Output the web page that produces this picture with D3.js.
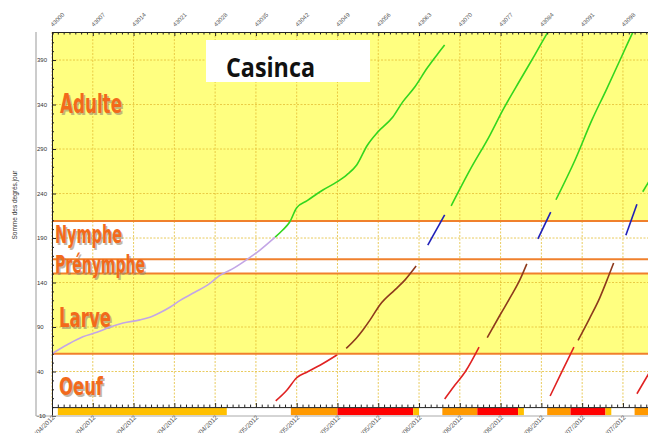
<!DOCTYPE html>
<html>
<head>
<meta charset="utf-8">
<script src="https://cdn.jsdelivr.net/npm/d3@7"></script>
<style>
  body { margin: 0; background: #fff; }
  svg { display: block; font-family: "Liberation Sans", Arial, sans-serif; }
</style>
</head>
<body>
<div id="chart"></div>
<script>
// Data: [jour, somme des degrés.jour]
const observe = [[43000,60],[43002.6,70],[43005.3,79],[43007.7,84],[43010,90],[43012.2,94.5],[43015.1,98],
    [43016.8,101],[43018.5,106],[43020.3,112.5],[43022,120],[43024.5,129],[43027.1,139],[43028.8,148],
    [43030.9,155],[43033.5,166],[43035.7,176.5],[43038.3,191]];

const adulte = [
    [[43038.3,191],[43039.6,199],[43040.8,208],[43042,224],[43043.8,232],[43046.5,244],[43048.9,253],[43050.6,261],
     [43052.3,272],[43054.1,294],[43055.9,309],[43058.5,326],[43060.2,343],[43062.3,360],[43064.4,381],[43066.1,396],[43067.4,407]],
    [[43068.5,226],[43071.7,266],[43075.2,306],[43077.4,334],[43080.3,367],[43082.9,396],[43085.1,421],[43086,430]],
    [[43086.5,233],[43089.8,278],[43092.7,323],[43095.1,356],[43097.5,390],[43099.7,421],[43100.4,430]],
    [[43101.4,242],[43102.6,255]]
];
const nymphe = [
    [[43064.5,182],[43067.4,216]],
    [[43083.4,189],[43085.6,219]],
    [[43098.5,193],[43100.4,228]]
];
const larve = [
    [[43050.5,66],[43052.3,78],[43053.4,87],[43054.6,98],[43056.3,115],[43058.9,132],[43060.6,143],[43062.5,158.5]],
    [[43074.7,78],[43076.9,103.5],[43078.9,126],[43080.3,143],[43081.5,161]],
    [[43090.3,75],[43092.3,100],[43094,122.5],[43095.4,145],[43096.4,162]]
];
const oeuf = [
    [[43038.4,7],[43040.3,19],[43042,33],[43043.8,39.5],[43046,47],[43048.9,58.5]],
    [[43067.4,9],[43069.2,25],[43070.9,39.5],[43073.3,67.5]],
    [[43085.5,12.5],[43087.5,39.5],[43089.6,67.5]],
    [[43100.4,15],[43102.6,39.5]]
];

// stage thresholds and names
const seuils = [60, 150, 166, 209];
const stades = ["Adulte", "Nymphe", "Prénymphe", "Larve", "Oeuf"];

// bottom bar: [début, fin, couleur]
const barre = [
    [43001, 43030, "#FFC000"], [43041, 43049, "#FF9900"], [43049, 43062, "#FF0000"], [43062, 43063, "#FFC000"],
    [43067, 43073, "#FF9900"], [43073, 43080, "#FF0000"], [43080, 43081, "#FFC000"],
    [43085, 43089, "#FF9900"], [43089, 43095, "#FF0000"], [43095, 43096, "#FFC000"],
    [43100, 43103, "#FF9900"]
];

const topTicks = d3.range(43000, 43099, 7);
const dateLabels = ["01/04/2012","08/04/2012","15/04/2012","22/04/2012","29/04/2012","06/05/2012","13/05/2012",
    "20/05/2012","27/05/2012","03/06/2012","10/06/2012","17/06/2012","24/06/2012","01/07/2012","08/07/2012"];
const yTicks = d3.range(-10, 400, 50);

const WIDTH = 648, HEIGHT = 433;
const x = d3.scaleLinear().domain([43000, 43102.3]).range([52, 648]);
const y = d3.scaleLinear().domain([-10, 421.5]).range([416, 32]);

const svg = d3.select("#chart").append("svg").attr("width", WIDTH).attr("height", HEIGHT);

const plotTop = y.range()[1], plotBottom = y(0), plotLeft = x.range()[0], plotRight = x.range()[1];

svg.append("clipPath").attr("id", "clip").append("rect")
    .attr("x", plotLeft).attr("y", plotTop).attr("width", plotRight - plotLeft).attr("height", plotBottom - plotTop);

// backgrounds: yellow for Adulte and Larve
const fonds = [[seuils[3], 421.5, "#FFFF80"], [seuils[2], seuils[3], "#fff"], [seuils[1], seuils[2], "#fff"],
    [seuils[0], seuils[1], "#FFFF80"], [0, seuils[0], "#fff"]];
svg.append("g").selectAll("rect").data(fonds).join("rect")
    .attr("x", plotLeft).attr("width", plotRight - plotLeft)
    .attr("y", d => y(d[1])).attr("height", d => y(d[0]) - y(d[1]))
    .attr("fill", d => d[2]);

// dashed grid
const grid = svg.append("g").attr("stroke", "#E3BE35").attr("stroke-width", 0.8).attr("stroke-dasharray", "2,1.5");
grid.selectAll(".v").data(topTicks).join("line").attr("class", "v")
    .attr("x1", d => x(d)).attr("x2", d => x(d)).attr("y1", plotTop).attr("y2", plotBottom);
grid.selectAll(".h").data(yTicks.filter(d => d > 0)).join("line").attr("class", "h")
    .attr("x1", plotLeft).attr("x2", plotRight).attr("y1", d => y(d)).attr("y2", d => y(d));

// thresholds
svg.append("g").selectAll("line").data(seuils).join("line")
    .attr("x1", plotLeft).attr("x2", plotRight).attr("y1", d => y(d)).attr("y2", d => y(d))
    .attr("stroke", "#F0802C").attr("stroke-width", 2);

// stage labels
const stadePos = [[60, 113, 62, 27], [55, 243, 67, 25], [55, 273, 90, 25], [59, 327, 52, 26], [59, 395, 44, 25]];
const labels = svg.append("g").attr("font-weight", "bold").attr("font-family", "'DejaVu Sans Condensed', 'DejaVu Sans', sans-serif");
stades.forEach((s, i) => {
    const [lx, ly, lw, fs] = stadePos[i];
    labels.append("text").attr("x", lx + 1.5).attr("y", ly + 1.5).attr("font-size", fs)
        .attr("textLength", lw).attr("lengthAdjust", "spacingAndGlyphs")
        .attr("fill", "#9a8a70").attr("opacity", 0.6).text(s);
    labels.append("text").attr("x", lx).attr("y", ly).attr("font-size", fs)
        .attr("textLength", lw).attr("lengthAdjust", "spacingAndGlyphs")
        .attr("fill", "#F26A1B").text(s);
});

// curves
const line = d3.line().x(d => x(d[0])).y(d => y(d[1])).curve(d3.curveMonotoneX);
const courbes = svg.append("g").attr("clip-path", "url(#clip)").attr("fill", "none").attr("stroke-width", 1.6);
courbes.append("path").datum(observe).attr("d", line).attr("stroke", "#C3A6E6");
const stadeSeries = [[adulte, "#33D61E"], [nymphe, "#2020B8"], [larve, "#8E3A1C"], [oeuf, "#E02222"]];
stadeSeries.forEach(([series, color]) => {
    courbes.selectAll(null).data(series).join("path").attr("d", line).attr("stroke", color);
});

// bottom bar
svg.append("g").selectAll("rect").data(barre).join("rect")
    .attr("x", d => x(d[0])).attr("width", d => Math.min(x(d[1]), plotRight) - x(d[0]))
    .attr("y", y(-1)).attr("height", y(-9) - y(-1))
    .attr("fill", d => d[2]);

// axes (ticks inside the plot)
const days = d3.range(43000, 43103);
const topAxis = svg.append("g").attr("transform", `translate(0,${plotTop})`)
    .call(d3.axisTop(x).tickValues(days).tickSize(-2.5).tickFormat(""));
const botAxis = svg.append("g").attr("transform", `translate(0,${plotBottom})`)
    .call(d3.axisBottom(x).tickValues(days).tickSize(-2.5).tickFormat(""));
[topAxis, botAxis].forEach(a => {
    a.select(".domain").attr("stroke", "#222");
    a.selectAll(".tick line").attr("stroke", "#222").filter(d => (d - 43000) % 7 === 0).attr("y2", a === topAxis ? 4 : -4);
});

const leftAxis = svg.append("g").attr("transform", `translate(${plotLeft},0)`)
    .call(d3.axisLeft(y).tickValues(d3.range(-10, 421, 10)).tickSize(-2).tickFormat(""));
leftAxis.select(".domain").attr("stroke", "#222");
leftAxis.selectAll(".tick line").attr("stroke", "#222").filter(d => (d + 10) % 50 === 0).attr("x2", 4);

// outer gray lines
svg.append("line").attr("x1", 36).attr("x2", 36).attr("y1", plotTop).attr("y2", y(-10)).attr("stroke", "#999");
svg.append("line").attr("x1", 36).attr("x2", plotRight).attr("y1", y(-10)).attr("y2", y(-10)).attr("stroke", "#aaa");

// y tick labels
svg.append("g").selectAll("text").data(yTicks).join("text")
    .attr("x", 37).attr("y", d => y(d) + 2).attr("font-size", 6).attr("fill", "#333").text(d => d);

// top labels
svg.append("g").selectAll("text").data(topTicks).join("text")
    .attr("transform", d => `translate(${x(d) + 1},${plotTop - 5}) rotate(-45)`)
    .attr("font-size", 6).attr("fill", "#555").text(d => d);

// bottom date labels
svg.append("g").selectAll("text").data(topTicks).join("text")
    .attr("transform", d => `translate(${x(d) + 3},${y(-10) + 2}) rotate(-45)`)
    .attr("text-anchor", "end").attr("font-size", 6.5).attr("fill", "#555")
    .text((d, i) => dateLabels[i]);

// y title
svg.append("text").attr("transform", `translate(17,205) rotate(-90)`)
    .attr("text-anchor", "middle").attr("font-size", 6.5).attr("fill", "#333").text("Somme des degrés.jour");

// title box
svg.append("rect").attr("x", 206).attr("y", 40).attr("width", 164).attr("height", 42).attr("fill", "#fff");
svg.append("text").attr("x", 226).attr("y", 77).attr("font-size", 26).attr("font-weight", "bold")
    .attr("font-family", "'Open Sans', sans-serif").attr("textLength", 89).attr("lengthAdjust", "spacingAndGlyphs")
    .attr("fill", "#111").text("Casinca");
</script>
</body>
</html>
